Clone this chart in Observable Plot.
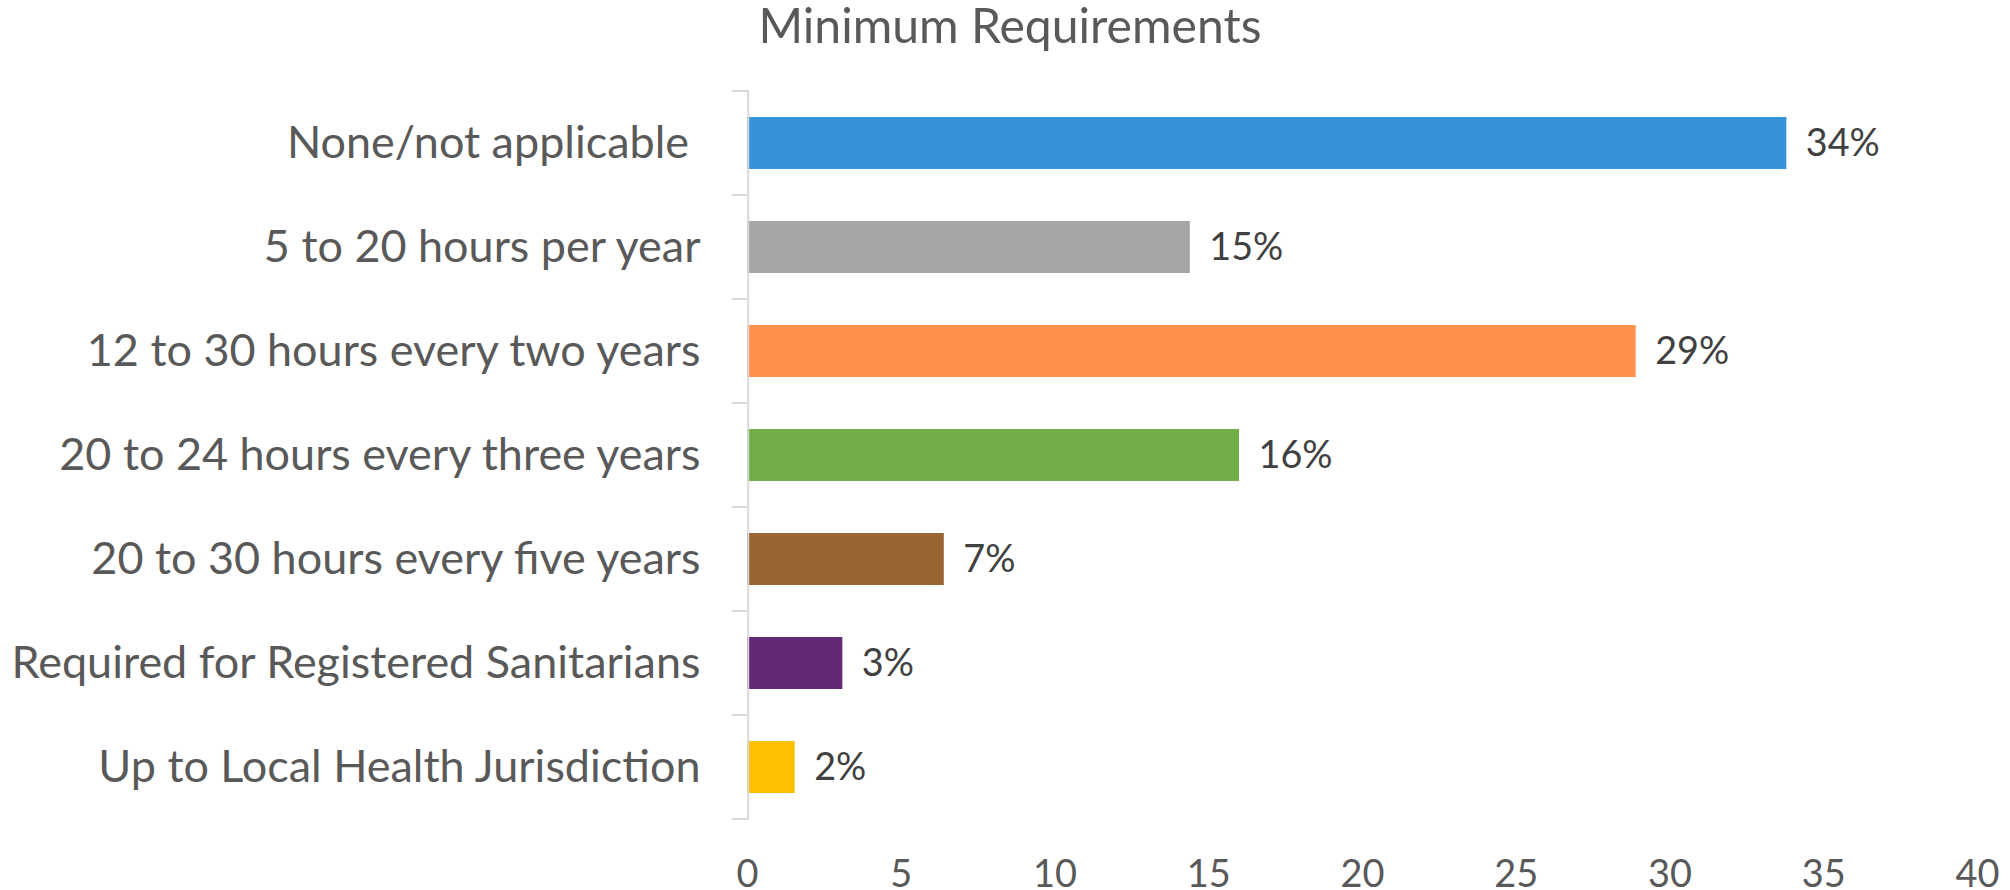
<!DOCTYPE html>
<html>
<head>
<meta charset="utf-8">
<script src="https://cdn.jsdelivr.net/npm/d3@7"></script>
<script src="https://cdn.jsdelivr.net/npm/@observablehq/plot@0.6"></script>
<style>
  html, body { margin: 0; padding: 0; background: #ffffff; }
  #wrap { width: 2010px; height: 890px; overflow: hidden; background: #fff; }
  #title { height: 60px; position: relative; }
  #title span { position: absolute; left: 0; width: 2020px; text-align: center; line-height: 0.9; color: #595959; font-family: Lato, sans-serif; white-space: nowrap; }
  svg text { white-space: pre; }
</style>
</head>
<body>
<div id="wrap">
  <div id="title"><span id="t"></span></div>
  <div id="chart"></div>
</div>
<script>
const title = "Minimum Requirements";
const categories = [
  "None/not applicable ",
  "5 to 20 hours per year",
  "12 to 30 hours every two years",
  "20 to 24 hours every three years",
  "20 to 30 hours every five years",
  "Required for Registered Sanitarians",
  "Up to Local Health Jurisdiction"
];
const values = [33.8, 14.4, 28.9, 16.0, 6.4, 3.1, 1.55];
const labels = ["34%", "15%", "29%", "16%", "7%", "3%", "2%"];
const colors = ["#3892d8", "#a5a5a5", "#ff914d", "#70ad47", "#996633", "#652874", "#ffc000"];
const xTicks = [0, 5, 10, 15, 20, 25, 30, 35, 40];

const data = categories.map((c, i) => ({category: c, value: values[i], label: labels[i], color: colors[i]}));

// font sizing to mimic the original's Calibri text widths using Lato
const ctx = document.createElement("canvas").getContext("2d");
function fitSize(text, target) {
  ctx.font = "100px Lato";
  return 100 * target / ctx.measureText(text).width;
}
const titleSize = fitSize(title, 503);
const catSize = fitSize("Required for Registered Sanitarians", 690);
const lblSize = fitSize("34%", 74);
const tickFont = fitSize("40", 44);

const t = document.getElementById("t");
t.textContent = title;
t.style.fontSize = titleSize + "px";
// line-height 0.9: baseline = top + (0.9 - 1.2)/2*F + 0.987*F = top + 0.837F
t.style.top = Math.max(0, 43 - 0.837 * titleSize) + "px";

const chart = Plot.plot({
  width: 2010,
  height: 830,
  marginLeft: 747,
  marginRight: 33,
  marginTop: 31,
  marginBottom: 71,
  style: {fontFamily: "Lato, sans-serif", background: "#ffffff", overflow: "visible"},
  x: {domain: [0, 40]},
  y: {domain: categories, paddingInner: 0.5, paddingOuter: 0.25},
  color: {type: "identity"},
  marks: [
    Plot.barX(data, {x: "value", y: "category", fill: "color"}),
    Plot.ruleX([0], {stroke: "#d9d9d9", strokeWidth: 2, dx: 0.7}),
    Plot.axisY({tickSize: 0, tickPadding: 47, fontSize: catSize, fill: "#595959", label: null}),
    Plot.axisX({ticks: xTicks, tickSize: 0, tickPadding: 41, fontSize: tickFont, fill: "#595959", label: null}),
    Plot.text(data, {x: "value", y: "category", text: "label", textAnchor: "start", dx: 19, fontSize: lblSize, fill: "#404040"})
  ]
});

document.getElementById("chart").appendChild(chart);

// category boundary tick marks (Excel style) from the y band scale
const ys = chart.scale("y");
const xs = chart.scale("x");
const [r0, r1] = ys.range;
const n = ys.domain.length;
const x0 = xs.apply(0);
const bounds = d3.range(n + 1).map(k => r0 + k * (r1 - r0) / n);
d3.select(chart).append("g")
  .selectAll("line")
  .data(bounds)
  .join("line")
  .attr("x1", x0 - 15)
  .attr("x2", x0 + 1.7)
  .attr("y1", d => d)
  .attr("y2", d => d)
  .attr("stroke", "#d9d9d9")
  .attr("stroke-width", 2);
</script>
</body>
</html>
